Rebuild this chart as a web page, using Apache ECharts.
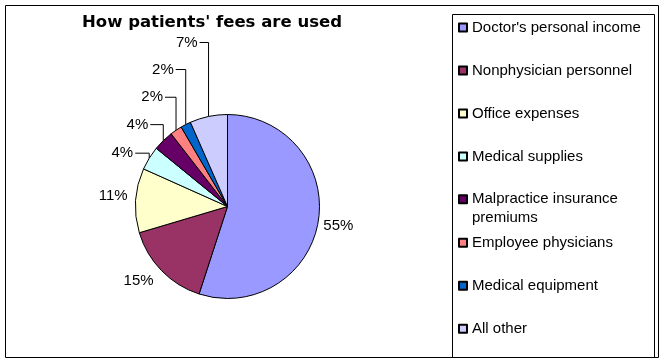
<!DOCTYPE html>
<html><head><meta charset="utf-8">
<script src="https://cdn.jsdelivr.net/npm/echarts@6/dist/echarts.min.js"></script>
<style>html,body{margin:0;padding:0;background:#fff}#c{width:664px;height:363px}</style>
</head><body><div id="c"></div>
<script>
const chartTitle = "How patients' fees are used";
const categories = ["Doctor's personal income", "Nonphysician personnel", "Office expenses", "Medical supplies", "Malpractice insurance premiums", "Employee physicians", "Medical equipment", "All other"];
const legendLabels = ["Doctor's personal income", "Nonphysician personnel", "Office expenses", "Medical supplies", "Malpractice insurance\npremiums", "Employee physicians", "Medical equipment", "All other"];
const values = [55.0, 15.4, 11.3, 4.2, 3.6, 2.1, 1.8, 6.6];
const colors = ['#9999FF', '#993366', '#FFFFCC', '#CCFFFF', '#660066', '#FF8080', '#0066CC', '#CCCCFF'];

// label placement relative to the slice's outer mid point (style only)
const labelOffsets = [[5, 5], [-8, 10], [-8, -5], [-16, -5], [-15, -16], [-13, -33], [-12, -55], [-11, -74]];
const leaderLine = [false, false, false, true, true, true, true, true];

const FONT = "'Liberation Sans', Arial, sans-serif";
const chart = echarts.init(document.getElementById('c'), null, {renderer: 'canvas'});

const nameToLabel = {};
categories.forEach((c, i) => nameToLabel[c] = legendLabels[i]);

const legendText = {fontFamily: FONT, fontSize: 15, lineHeight: 19, color: '#000'};
const legendBase = {
  orient: 'vertical', left: 458, padding: 0,
  itemWidth: 8, itemHeight: 8, itemGap: 24, icon: 'rect',
  selectedMode: false,
  formatter: name => nameToLabel[name],
  textStyle: legendText
};

chart.setOption({
  animation: false,
  backgroundColor: '#fff',
  title: {
    text: chartTitle, left: 82, top: 14, padding: 0,
    textStyle: {fontFamily: "'DejaVu Sans', sans-serif", fontWeight: 'bold', fontSize: 16.5, color: '#000'}
  },
  graphic: [
    {type: 'rect', shape: {x: 5.5, y: 5.5, width: 653, height: 352}, style: {fill: null, stroke: '#000', lineWidth: 1}, silent: true, z: -1},
    {type: 'rect', shape: {x: 452.5, y: 14.5, width: 202, height: 343}, style: {fill: null, stroke: '#000', lineWidth: 1}, silent: true, z: -1}
  ],
  legend: [
    Object.assign({}, legendBase, {top: 18, data: categories.slice(0, 4)}),
    Object.assign({}, legendBase, {
      top: 189.8, itemHeight: 27,
      data: [{name: categories[4], icon: 'path://M0,0L8,0L8,8L0,8ZM0,27'}]
    }),
    Object.assign({}, legendBase, {top: 233.2, data: categories.slice(5)})
  ],
  series: [{
    type: 'pie',
    center: [227.5, 206.5],
    radius: 92,
    startAngle: 90,
    clockwise: true,
    avoidLabelOverlap: false,
    emphasis: {disabled: true},
    itemStyle: {borderColor: '#000', borderWidth: 1},
    label: {
      show: true, position: 'outside',
      formatter: p => Math.round(p.percent) + '%',
      fontFamily: FONT, fontSize: 15, color: '#000'
    },
    labelLine: {show: true, length: 10, length2: 5, smooth: false, lineStyle: {color: '#000', width: 1}},
    labelLayout: function (p) {
      const pts = p.labelLinePoints;
      if (!pts) return {};
      const e = pts[0];
      const o = labelOffsets[p.dataIndex];
      const lx = e[0] + o[0], ly = e[1] + o[1];
      const res = {x: lx, y: ly, align: o[0] > 0 ? 'left' : 'right', verticalAlign: 'middle'};
      if (leaderLine[p.dataIndex]) {
        res.labelLinePoints = [[e[0], e[1]], [e[0], ly], [lx + 2, ly]];
      } else {
        res.labelLinePoints = [[e[0], e[1]], [e[0], e[1]], [e[0], e[1]]];
      }
      return res;
    },
    data: categories.map((c, i) => ({
      name: c, value: values[i],
      itemStyle: {color: colors[i]},
      labelLine: leaderLine[i] ? {} : {lineStyle: {opacity: 0}}
    }))
  }]
});
</script></body></html>
